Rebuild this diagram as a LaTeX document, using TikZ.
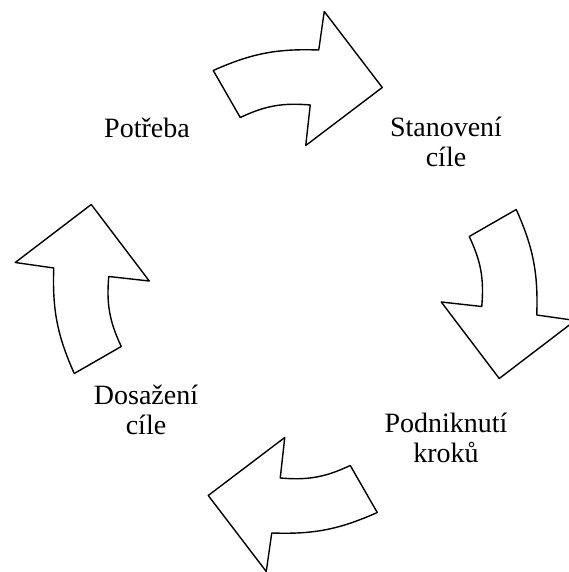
\documentclass[tikz,border=0pt]{standalone}
\usepackage{fontspec}
\setmainfont{Liberation Serif}
\begin{document}
\begin{tikzpicture}[x=0.5pt,y=0.5pt,line join=round,line cap=round,font=\fontsize{14}{15}\selectfont]
	\useasboundingbox (0,0) rectangle (568,572);
	\path
	(295.25,280.5) coordinate (O)
	;
	\foreach \r in {0,-90,-180,-270}
	\draw[line width=0.7pt,shift={(O)},rotate=\r]
	(-82,221) to[bend left=13] (23.5,241.5)--(29,280)--(87,204)--(10.5,146)--(15,186.5) to[bend right=15] (-55,174)--cycle;
	\foreach \n/\x/\y/\t in {potreba/147/434/{Potřeba},stanoveni/446/405/{Stanovení\\cíle},podniknuti/446/109/{Podniknutí\\kroků},dosazeni/146/137/{Dosažení\\cíle}}
	\node[anchor=base,align=center,inner sep=0pt] (\n) at (\x,\y) {\t};
\end{tikzpicture}
\end{document}
